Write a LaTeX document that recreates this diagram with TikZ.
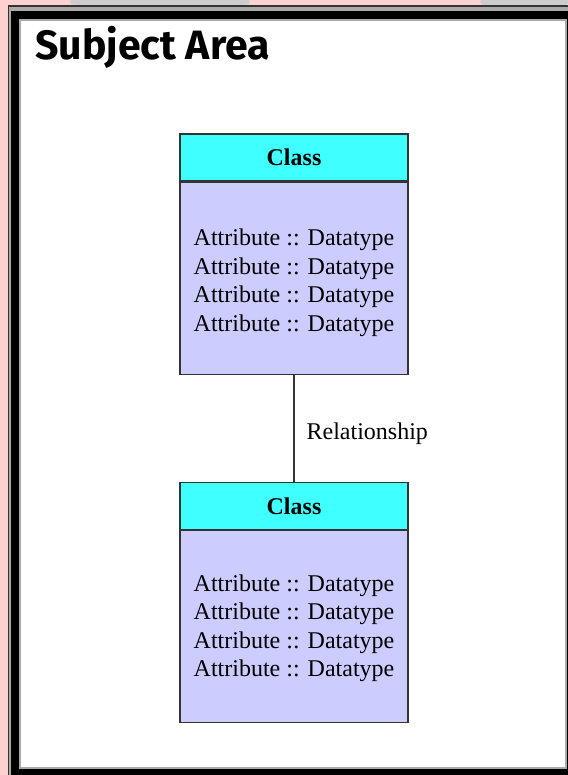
\documentclass[tikz,border=0pt]{standalone}
\usepackage{fontspec}
\setmainfont{Liberation Serif}
\newfontfamily\titlefont{Fira Sans}
\usetikzlibrary{positioning}

\definecolor{bgpink}{RGB}{255,208,208}
\definecolor{bggray}{RGB}{204,204,204}
\definecolor{framegray}{RGB}{170,170,170}
\definecolor{headcyan}{RGB}{64,255,255}
\definecolor{bodyblue}{RGB}{204,204,255}
\definecolor{edgegray}{RGB}{51,51,51}

\begin{document}
\begin{tikzpicture}[x=1pt,y=1pt,node distance=0pt,
  classhead/.style={draw=edgegray,fill=headcyan,line width=1.3pt,minimum width=228pt,minimum height=47pt,inner sep=0pt,font=\fontsize{24}{28.5}\selectfont\bfseries},
  classbody/.style={draw=edgegray,fill=bodyblue,line width=1.3pt,minimum width=228pt,minimum height=192pt,inner sep=0pt},
  attrs/.style={inner sep=0pt,align=center,font=\fontsize{24}{28.5}\selectfont},
  relation/.style={draw=edgegray,line width=1.3pt}]
\useasboundingbox (0,0) rectangle (567,-775);
% background and frame
\fill[bgpink] (0,0) rectangle (567,-775);
\fill[bggray,rounded corners=4pt] (70,2) rectangle (250,-5);
\fill[bggray,rounded corners=4pt] (480,2) rectangle (570,-5);
\fill[black!80] (8,-5) rectangle (580,-790);
\fill[framegray] (9,-7) rectangle (580,-790);
\fill[black] (11,-11) rectangle (580,-790);
\fill[framegray] (19,-19) rectangle (567,-769);
\fill[white] (21,-21) rectangle (565,-767);
\node[anchor=base west,inner sep=0pt,font=\titlefont\fontsize{41}{45}\selectfont\bfseries] (title) at (35,-60) {Subject Area};

% classes
\node[classhead] (head1) at (294,-157.5) {Class};
\node[classbody,below=of head1] (body1) {};
\node[attrs] (attr1) at ([yshift=-4.5pt]body1.center) {Attribute :: Datatype\\ Attribute :: Datatype\\ Attribute :: Datatype\\ Attribute :: Datatype};
\node[classhead] (head2) at (294,-506) {Class};
\node[classbody,below=of head2] (body2) {};
\node[attrs] (attr2) at ([yshift=-1.5pt]body2.center) {Attribute :: Datatype\\ Attribute :: Datatype\\ Attribute :: Datatype\\ Attribute :: Datatype};

\draw[relation] (body1.south) -- (head2.north) node[midway,right=12pt,yshift=-5pt,inner sep=0pt,font=\fontsize{24}{28.5}\selectfont] (rel) {Relationship};
\end{tikzpicture}
\end{document}
